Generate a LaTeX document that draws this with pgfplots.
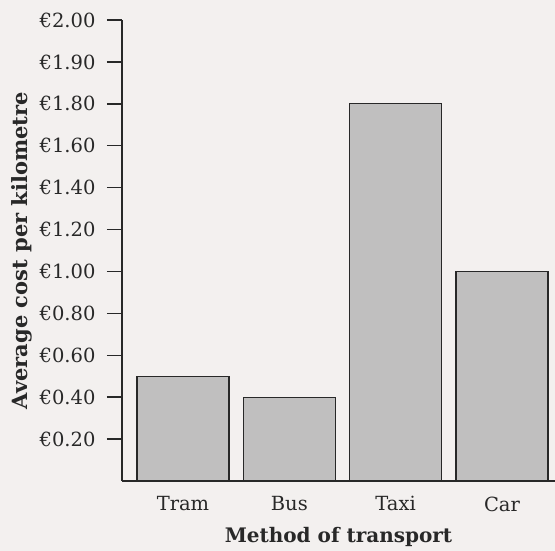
\documentclass[border=0pt]{standalone}
\usepackage{pgfplots}
\pgfplotsset{compat=1.18}
\usepackage{fontspec}
\setmainfont{DejaVu Serif}
\definecolor{bg}{RGB}{243,240,239}
\definecolor{barfill}{RGB}{192,191,191}
\definecolor{ink}{RGB}{40,40,40}
\pagecolor{bg}
\begin{document}
\begin{tikzpicture}
\begin{axis}[
  name=ax,
  scale only axis,
  width=433pt, height=461pt,
  xmin=-0.574, xmax=3.499,
  ymin=0, ymax=2.2,
  axis x line*=bottom, axis y line*=left,
  axis line style={line width=1.6pt, color=ink, -},
  xtick={0,1,2,3},
  xticklabels={Tram,Bus,Taxi,Car},
  xtick style={draw=none},
  ytick={0.2,0.4,0.6,0.8,1.0,1.2,1.4,1.6,1.8,2.0,2.2},
  yticklabels={€0.20,€0.40,€0.60,€0.80,€1.00,€1.20,€1.40,€1.60,€1.80,€1.90,€2.00},
  tick align=outside,
  major tick length=15pt,
  ytick style={line width=1.4pt, color=ink},
  tick label style={font=\fontsize{19.5}{22}\selectfont, text=ink},
  yticklabel style={xshift=-8pt},
  xticklabel style={yshift=3pt, anchor=north},
  xlabel={\textbf{Method of transport}},
  ylabel={\textbf{Average cost per kilometre}},
  xlabel style={font=\fontsize{20}{23}\selectfont, text=ink, at={(rel axis cs:0.5,0)}, yshift=-43pt, anchor=north},
  ylabel style={font=\fontsize{21}{24}\selectfont, text=ink, at={(rel axis cs:-0.231,0.5)}, anchor=center},
  ybar, bar width=0.866,
]
\addplot[fill=barfill, draw=ink, line width=1.2pt] coordinates {(0,0.5) (1,0.4) (2,1.8) (3,1.0)};
\end{axis}
\pgfresetboundingbox
\path ([xshift=-122pt,yshift=-70pt]ax.south west) rectangle ([yshift=20pt]ax.north east);
\end{tikzpicture}
\end{document}
